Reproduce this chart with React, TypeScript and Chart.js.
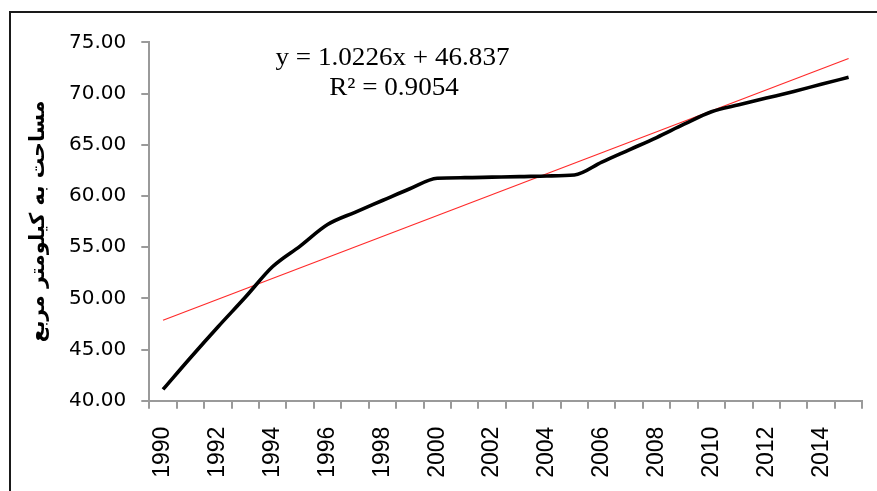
import React, { useEffect, useRef } from "react";
import { Chart, registerables } from "chart.js";

Chart.register(...registerables);

const years: string[] = [
  "1990", "1991", "1992", "1993", "1994", "1995", "1996", "1997", "1998", "1999",
  "2000", "2001", "2002", "2003", "2004", "2005", "2006", "2007", "2008", "2009",
  "2010", "2011", "2012", "2013", "2014", "2015",
];

const area: number[] = [
  41.1, 44.2, 47.2, 50.1, 53.1, 55.1, 57.2, 58.4, 59.55, 60.7,
  61.72, 61.78, 61.83, 61.88, 61.95, 62.04, 63.3, 64.5, 65.7, 67.0,
  68.22, 68.9, 69.55, 70.2, 70.9, 71.58,
];

// linear trend line, drawn between its two end values
const trend: (number | null)[] = [
  47.86, null, null, null, null, null, null, null, null, null,
  null, null, null, null, null, null, null, null, null, null,
  null, null, null, null, null, 73.42,
];

const equationLines: string[] = ["y = 1.0226x + 46.837", "R² = 0.9054"];
const yTitle = "مساحت به کیلومتر مربع";
const yMin = 40;
const yMax = 75;
const yStep = 5;

const W = 877;
const H = 491;
const axisGray = "#9a9a9a";

export default function App() {
  const ref = useRef<HTMLCanvasElement | null>(null);

  useEffect(() => {
    if (!ref.current) return;
    const equationPlugin = {
      id: "equation",
      afterDraw(chart: any) {
        const ctx = chart.ctx;
        ctx.save();
        ctx.fillStyle = "#000";
        ctx.font = "25px 'Liberation Serif'";
        ctx.textAlign = "center";
        ctx.textBaseline = "alphabetic";
        const sx = 1.085;
        ctx.scale(sx, 1);
        ctx.fillText(equationLines[0], 392.5 / sx, 65);
        ctx.fillText(equationLines[1], 394 / sx, 95);
        ctx.restore();
      },
    };
    const chart = new Chart(ref.current, {
      type: "line",
      data: {
        labels: years,
        datasets: [
          {
            label: "area",
            data: area,
            borderColor: "#000",
            borderWidth: 3.6,
            pointRadius: 0,
            cubicInterpolationMode: "monotone",
            fill: false,
          },
          {
            label: "trend",
            data: trend,
            borderColor: "#ff2a2a",
            borderWidth: 1.2,
            pointRadius: 0,
            spanGaps: true,
            tension: 0,
            fill: false,
          },
        ],
      },
      options: {
        animation: false,
        responsive: false,
        devicePixelRatio: 1,
        layout: { padding: { left: 22.5, right: 14.7, top: 42.3, bottom: 10.3 } },
        plugins: {
          legend: { display: false },
          tooltip: { enabled: false },
        },
        scales: {
          x: {
            type: "category",
            offset: true,
            grid: {
              offset: true,
              drawOnChartArea: false,
              drawTicks: true,
              tickLength: 8,
              tickWidth: 2,
              tickColor: axisGray,
              color: axisGray,
              lineWidth: 2,
            },
            border: { color: axisGray, width: 2 },
            ticks: {
              autoSkip: false,
              maxRotation: 90,
              minRotation: 90,
              padding: 18,
              color: "#000",
              font: { family: "'Liberation Sans'", size: 23 },
              callback: (_v: any, i: number) => (i % 2 === 0 ? years[i] : ""),
            },
            afterFit: (s: any) => {
              s.height = 80;
              s.paddingRight = 0;
            },
          },
          y: {
            min: yMin,
            max: yMax,
            grid: {
              drawOnChartArea: false,
              drawTicks: true,
              tickLength: 8,
              tickWidth: 2,
              tickColor: axisGray,
              color: axisGray,
              lineWidth: 2,
            },
            border: { color: axisGray, width: 2 },
            ticks: {
              stepSize: yStep,
              padding: 15,
              color: "#000",
              font: { family: "'DejaVu Sans'", size: 20 },
              callback: (v: any) => Number(v).toFixed(2),
            },
            title: {
              display: true,
              text: yTitle,
              color: "#000",
              font: { family: "'DejaVu Sans'", size: 20.5, weight: "bold" },
              padding: { top: 4, bottom: 4 },
            },
            afterFit: (s: any) => {
              s.width = 149.3 - 22.5;
            },
          },
        },
      },
      plugins: [equationPlugin],
    });
    return () => chart.destroy();
  }, []);

  return (
    <div
      style={{
        position: "fixed",
        left: 0,
        top: 0,
        width: W,
        height: H,
        overflow: "hidden",
        background: "#fff",
      }}
    >
      <div
        style={{
          position: "absolute",
          left: 9,
          top: 11,
          width: 900,
          height: 520,
          border: "2px solid #1a1a1a",
          boxSizing: "border-box",
        }}
      />
      <canvas
        ref={ref}
        width={W}
        height={H}
        style={{ position: "absolute", left: 0, top: 0, display: "block" }}
      />
    </div>
  );
}
